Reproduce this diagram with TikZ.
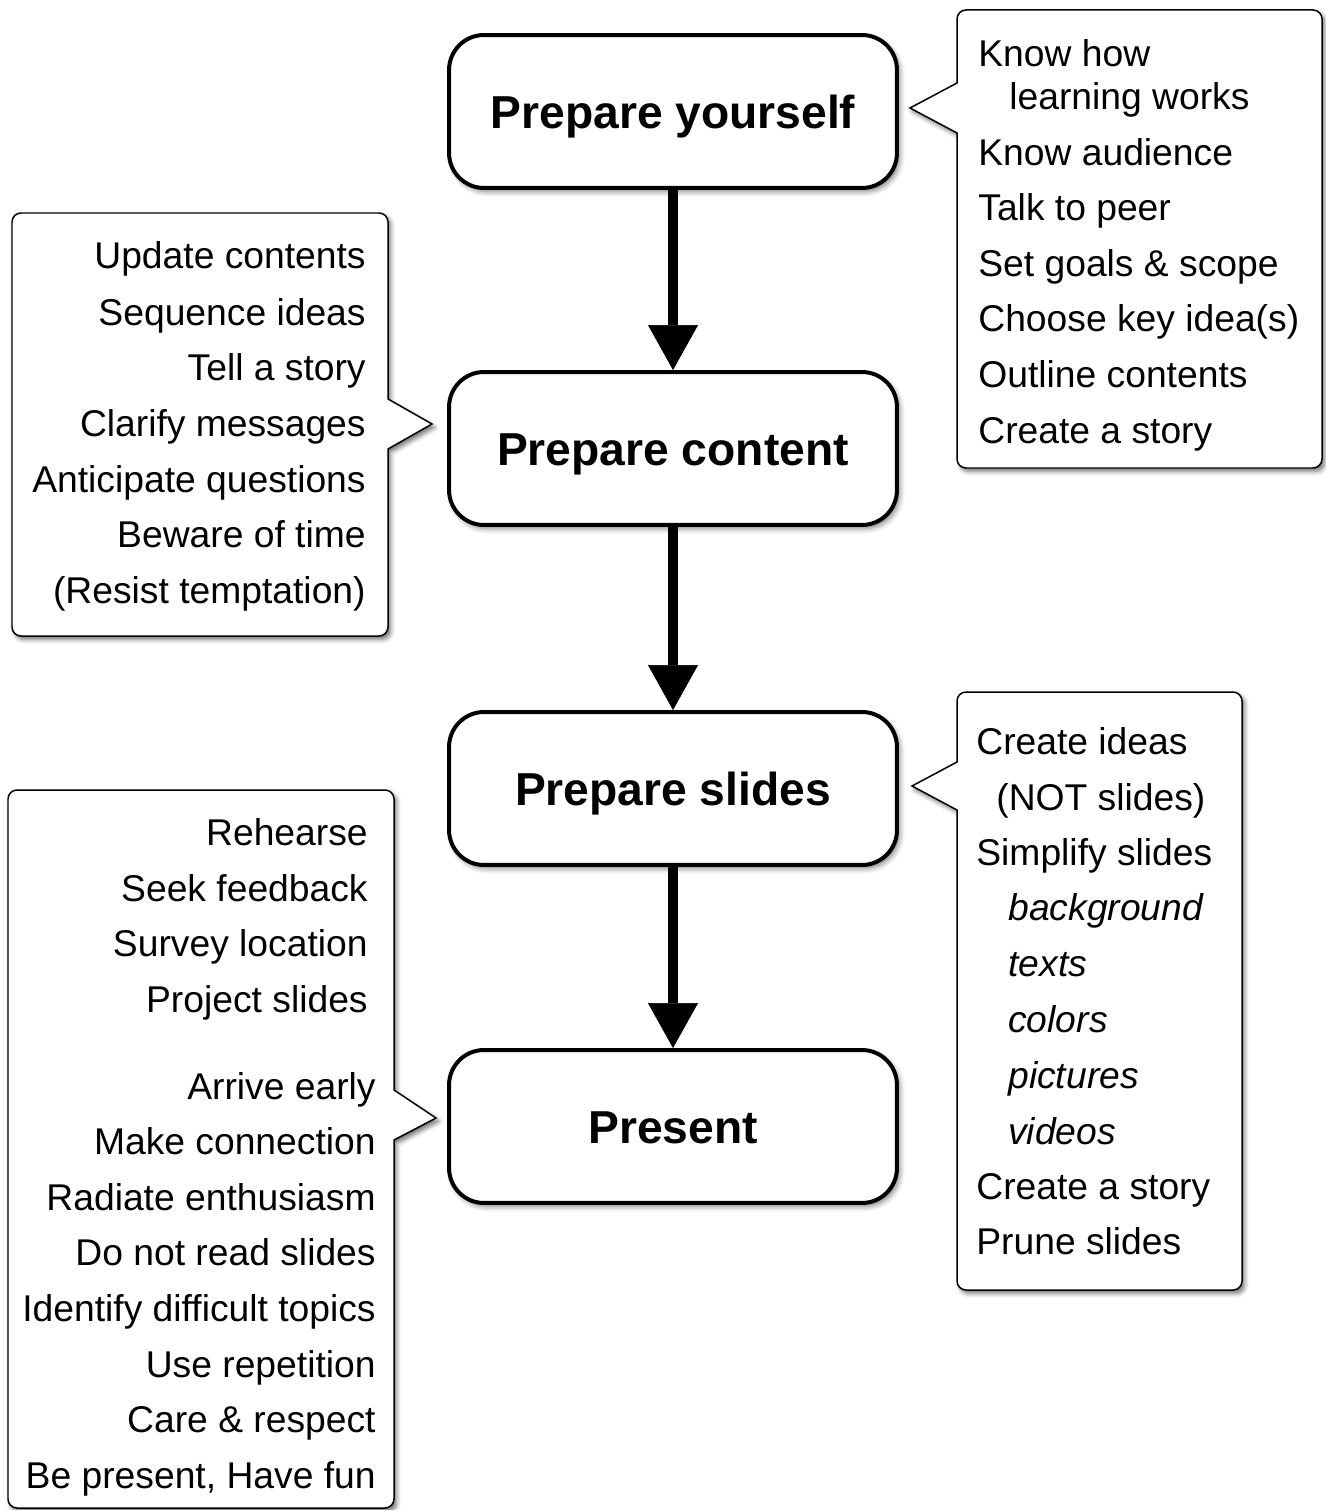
\documentclass[tikz,border=0pt]{standalone}
\usepackage{fontspec}
\setmainfont{Liberation Sans}
\usetikzlibrary{arrows.meta,shadows.blur}

\begin{document}
\begin{tikzpicture}[x=0.02cm,y=0.02cm,
  stage/.style={draw, line width=0.08cm, rounded corners=0.7cm, fill=white,
    minimum width=8.96cm, minimum height=3.06cm, inner sep=0pt,
    text height=18.8pt, text depth=0pt,
    font=\fontsize{26.3pt}{30pt}\selectfont\bfseries,
    blur shadow={shadow xshift=1.6pt, shadow yshift=-2pt, shadow blur radius=3pt, shadow opacity=50}},
  flow/.style={line width=0.2cm, -{Triangle[length=0.9cm, width=1cm, line width=0.4pt, fill=black]}},
  bubble/.style={draw, line width=0.85pt, fill=white,
    blur shadow={shadow xshift=1.6pt, shadow yshift=-2pt, shadow blur radius=2.5pt, shadow opacity=55}},
  item/.style={inner sep=0pt, font=\fontsize{21.2pt}{26pt}\selectfont},
  litem/.style={item, anchor=base west},
  ritem/.style={item, anchor=base east},
  note/.style={litem, font=\fontsize{21.2pt}{26pt}\selectfont\itshape},
  ]
\useasboundingbox (0,0) rectangle (1325,-1510);

% callout bubbles
\draw[bubble] (957,-83) -- (910,-108) -- (957,-133) -- (957,-459)
  arc[start angle=180,end angle=270,radius=9] -- (1313,-468)
  arc[start angle=270,end angle=360,radius=9] -- (1322,-19)
  arc[start angle=0,end angle=90,radius=9] -- (966,-10)
  arc[start angle=90,end angle=180,radius=9] -- cycle;

\draw[bubble] (388,-449) -- (432,-424) -- (388,-399) -- (388,-222)
  arc[start angle=0,end angle=90,radius=9] -- (21,-213)
  arc[start angle=90,end angle=180,radius=9] -- (12,-627)
  arc[start angle=180,end angle=270,radius=9] -- (379,-636)
  arc[start angle=270,end angle=360,radius=9] -- cycle;

\draw[bubble] (957,-762) -- (912,-786) -- (957,-810) -- (957,-1281)
  arc[start angle=180,end angle=270,radius=9] -- (1233,-1290)
  arc[start angle=270,end angle=360,radius=9] -- (1242,-701)
  arc[start angle=0,end angle=90,radius=9] -- (966,-692)
  arc[start angle=90,end angle=180,radius=9] -- cycle;

\draw[bubble] (394,-1140) -- (436,-1118) -- (394,-1090) -- (394,-799)
  arc[start angle=0,end angle=90,radius=9] -- (17,-790)
  arc[start angle=90,end angle=180,radius=9] -- (8,-1499)
  arc[start angle=180,end angle=270,radius=9] -- (385,-1508)
  arc[start angle=270,end angle=360,radius=9] -- cycle;

% stages
\node[stage] (s1) at (673,-111.5) {Prepare yourself};
\node[stage] (s2) at (673,-448.5) {Prepare content};
\node[stage] (s3) at (673,-788.5) {Prepare slides};
\node[stage] (s4) at (673,-1126.5) {Present};

\draw[flow] (s1.south) -- (s2.north);
\draw[flow] (s2.south) -- (s3.north);
\draw[flow] (s3.south) -- (s4.north);

% notes: prepare yourself
\node[litem] (a1) at (978,-67) {Know how};
\node[litem] (a2) at (1009,-110) {learning works};
\node[litem] (a3) at (978,-166) {Know audience};
\node[litem] (a4) at (978,-221) {Talk to peer};
\node[litem] (a5) at (978,-277) {Set goals \& scope};
\node[litem] (a6) at (978,-332) {Choose key idea(s)};
\node[litem] (a7) at (978,-387) {Outline contents};
\node[litem] (a8) at (978,-443) {Create a story};

% notes: prepare content
\node[ritem] (b1) at (366,-269) {Update contents};
\node[ritem] (b2) at (366,-325) {Sequence ideas};
\node[ritem] (b3) at (366,-380) {Tell a story};
\node[ritem] (b4) at (366,-436) {Clarify messages};
\node[ritem] (b5) at (366,-492) {Anticipate questions};
\node[ritem] (b6) at (366,-547) {Beware of time};
\node[ritem] (b7) at (366,-603) {(Resist temptation)};

% notes: prepare slides
\node[litem] (c1) at (976,-754) {Create ideas};
\node[litem] (c2) at (996,-810) {(NOT slides)};
\node[litem] (c3) at (976,-865) {Simplify slides};
\node[note] (c4) at (1008,-920) {background};
\node[note] (c5) at (1008,-976) {texts};
\node[note] (c6) at (1008,-1032) {colors};
\node[note] (c7) at (1008,-1088) {pictures};
\node[note] (c8) at (1008,-1144) {videos};
\node[litem] (c9) at (976,-1199) {Create a story};
\node[litem] (c10) at (976,-1254) {Prune slides};

% notes: present
\node[ritem] (d1) at (368,-845) {Rehearse};
\node[ritem] (d2) at (368,-901) {Seek feedback};
\node[ritem] (d3) at (368,-956) {Survey location};
\node[ritem] (d4) at (368,-1012) {Project slides};
\node[ritem] (d5) at (376,-1099) {Arrive early};
\node[ritem] (d6) at (376,-1154) {Make connection};
\node[ritem] (d7) at (376,-1210) {Radiate enthusiasm};
\node[ritem] (d8) at (376,-1265) {Do not read slides};
\node[ritem] (d9) at (376,-1321) {Identify difficult topics};
\node[ritem] (d10) at (376,-1377) {Use repetition};
\node[ritem] (d11) at (376,-1432) {Care \& respect};
\node[ritem] (d12) at (376,-1488) {Be present, Have fun};
\end{tikzpicture}
\end{document}
